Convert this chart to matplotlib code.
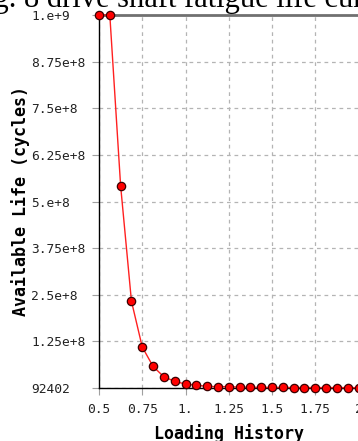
import matplotlib
matplotlib.use("Agg")
import matplotlib.pyplot as plt

# loading history vs available life
loading = [0.5, 0.5625, 0.625, 0.6875, 0.75, 0.8125, 0.875, 0.9375,
           1.0, 1.0625, 1.125, 1.1875, 1.25, 1.3125, 1.375, 1.4375,
           1.5, 1.5625, 1.625, 1.6875, 1.75, 1.8125, 1.875, 1.9375, 2.0]
life = [1.0e9, 1.0e9, 5.42e8, 2.33e8, 1.1e8, 5.8e7, 3.0e7, 1.8e7,
        1.05e7, 7.5e6, 4.5e6, 3.5e6, 4.0e6, 2.0e6, 1.8e6, 1.6e6,
        1.5e6, 1.5e6, 1.4e6, 1.4e6, 1.3e6, 1.3e6, 1.2e6, 1.2e6, 1.1e6]

xticks = [0.5, 0.75, 1.0, 1.25, 1.5, 1.75, 2.0]
xlabels = ["0.5", "0.75", "1.", "1.25", "1.5", "1.75", "2"]
yticks = [92402, 1.25e8, 2.5e8, 3.75e8, 5e8, 6.25e8, 7.5e8, 8.75e8, 1e9]
ylabels = ["92402", "1.25e+8", "2.5e+8", "3.75e+8", "5.e+8",
           "6.25e+8", "7.5e+8", "8.75e+8", "1.e+9"]

W, H = 358, 441
fig = plt.figure(figsize=(W / 100, H / 100), dpi=100)
ax = fig.add_axes([99 / W, 1 - 388 / H, 259.5 / W, 373 / H])

ax.plot(loading, life, color="#ff2020", lw=1.0, marker="o", ms=6,
        mfc="#ff0000", mec="#3a0000", mew=0.9, clip_on=False, zorder=5)

ax.set_xlim(0.5, 2.0)
ax.set_ylim(92402, 1e9)
ax.set_xticks(xticks)
ax.set_xticklabels(xlabels)
ax.set_yticks(yticks)
ax.set_yticklabels(ylabels)

ax.grid(True, color="#b4b4b4", ls=(0, (3, 3)), lw=0.9)
ax.tick_params(axis="both", direction="out", length=5, color="#a0a0a0",
               labelsize=9.3, labelcolor="#222222")
ax.tick_params(axis="x", pad=5.5)
ax.tick_params(axis="y", pad=44)
for lab in ax.get_yticklabels():
    lab.set_fontfamily("DejaVu Sans Mono")
    lab.set_ha("left")
for lab in ax.get_xticklabels():
    lab.set_fontfamily("DejaVu Sans Mono")

ax.spines["right"].set_visible(False)
ax.spines["top"].set_color("#707070")
ax.spines["top"].set_linewidth(2)
ax.spines["left"].set_color("black")
ax.spines["bottom"].set_color("black")
ax.spines["left"].set_linewidth(1)
ax.spines["bottom"].set_linewidth(1)

ax.set_xlabel("Loading History", fontfamily="DejaVu Sans Mono",
              fontweight="bold", fontsize=12, va="baseline")
ax.xaxis.set_label_coords(0.5, -0.137)
ax.set_ylabel("Available Life (cycles)", fontfamily="DejaVu Sans Mono",
              fontweight="bold", fontsize=12, va="center")
ax.yaxis.set_label_coords(-0.301, 0.5)

# caption from the page, cut off at the top
fig.text(-0.09, 1 - 6.5 / H, "Fig. 8 drive shaft fatigue life curve",
         fontfamily="Liberation Serif", fontsize=22, va="baseline", ha="left")

fig.savefig("out.png", dpi=100)
